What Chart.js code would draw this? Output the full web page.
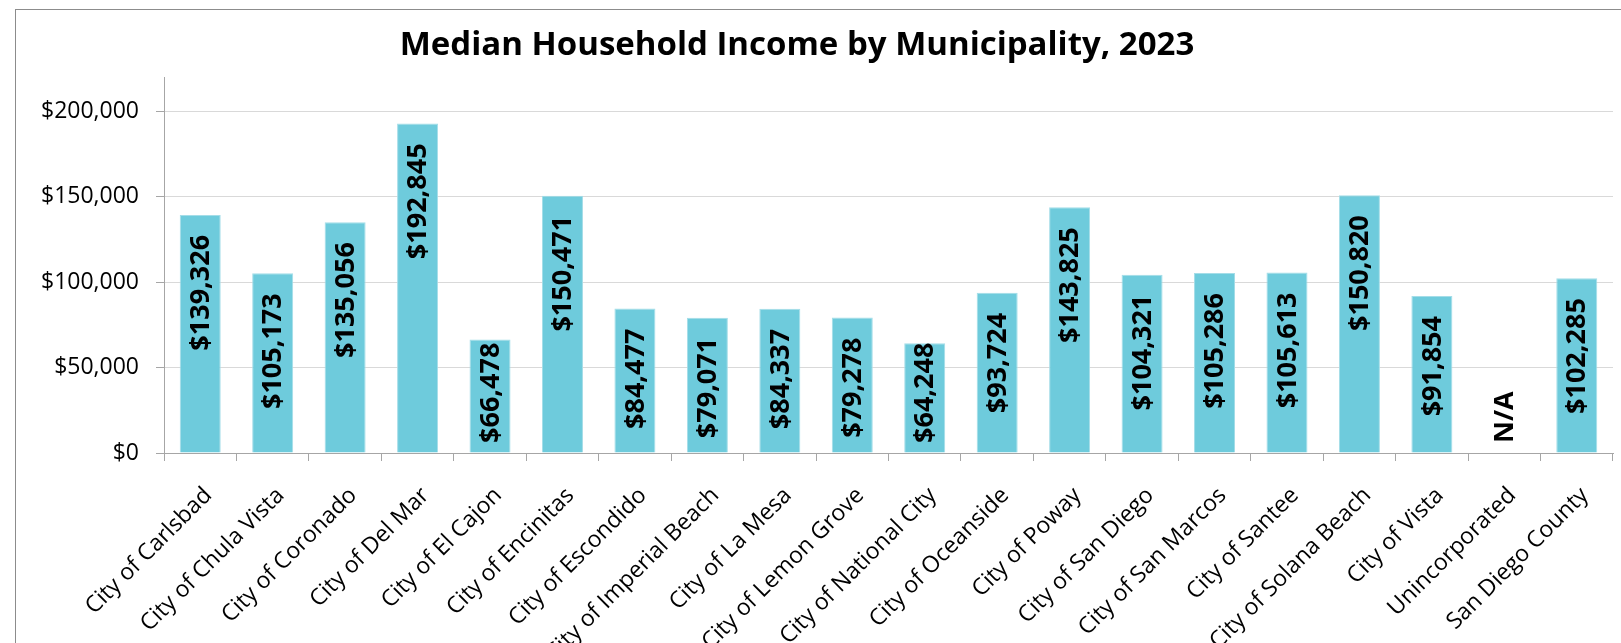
<!DOCTYPE html>
<html>
<head>
<meta charset="utf-8">
<script src="https://cdn.jsdelivr.net/npm/chart.js@4/dist/chart.umd.min.js"></script>
<style>
html,body{margin:0;padding:0;background:#fff;overflow:hidden;width:1621px;height:643px;}
#frame{position:absolute;left:15px;top:9px;width:1700px;height:800px;border:1px solid #8c8c8c;box-sizing:border-box;}
#wrap{position:absolute;left:0;top:0;width:1621px;height:643px;}
</style>
</head>
<body>
<div id="frame"></div>
<div id="wrap"><canvas id="c" width="1621" height="643"></canvas></div>
<script>
const chartTitle = 'Median Household Income by Municipality, 2023';
const categories = [
  'City of Carlsbad', 'City of Chula Vista', 'City of Coronado', 'City of Del Mar',
  'City of El Cajon', 'City of Encinitas', 'City of Escondido', 'City of Imperial Beach',
  'City of La Mesa', 'City of Lemon Grove', 'City of National City', 'City of Oceanside',
  'City of Poway', 'City of San Diego', 'City of San Marcos', 'City of Santee',
  'City of Solana Beach', 'City of Vista', 'Unincorporated', 'San Diego County'
];
const incomes = [
  139326, 105173, 135056, 192845,
  66478, 150471, 84477, 79071,
  84337, 79278, 64248, 93724,
  143825, 104321, 105286, 105613,
  150820, 91854, null, 102285
];
const yTickValues = [0, 50000, 100000, 150000, 200000];
const yAxisMax = 220000;
const missingLabel = 'N/A';

const FONT = 'Open Sans';
const fmt = v => '$' + v.toLocaleString('en-US');

const titleShift = {
  id: 'titleShift',
  afterLayout(chart) {
    const t = chart.titleBlock;
    if (t) { t.left = 0; t.right = 1594; }
  }
};

const barLabels = {
  id: 'barLabels',
  afterDatasetsDraw(chart) {
    const ctx = chart.ctx;
    const xs = chart.scales.x, ys = chart.scales.y;
    ctx.save();
    ctx.font = 'bold 27px "' + FONT + '"';
    ctx.fillStyle = '#000';
    ctx.textBaseline = 'middle';
    ctx.textAlign = 'left';
    const base = ys.getPixelForValue(0);
    incomes.forEach((v, i) => {
      const x = xs.getPixelForValue(i);
      const text = v == null ? missingLabel : fmt(v);
      const w = ctx.measureText(text).width;
      let start;
      if (v == null) {
        start = base - 10;
      } else {
        const top = ys.getPixelForValue(v);
        start = top + 20 + w;
        if (start > base - 10) start = base - 10;
      }
      ctx.save();
      ctx.translate(x + 1, start);
      ctx.rotate(-Math.PI / 2);
      ctx.fillText(text, 0, 0);
      ctx.restore();
    });
    ctx.restore();
  }
};

Chart.defaults.font.family = FONT;
Chart.defaults.color = '#000';

new Chart(document.getElementById('c'), {
  type: 'bar',
  data: {
    labels: categories,
    datasets: [{
      data: incomes,
      backgroundColor: '#6ECBDC',
      borderColor: '#a4dde8',
      borderWidth: 1,
      categoryPercentage: 1,
      barPercentage: 0.566
    }]
  },
  options: {
    responsive: false,
    animation: false,
    layout: { padding: { left: 0, right: 8, top: 0, bottom: 0 } },
    plugins: {
      legend: { display: false },
      tooltip: { enabled: false },
      title: {
        display: true,
        text: chartTitle,
        color: '#000',
        font: { family: FONT, size: 33, weight: 'bold' },
        padding: { top: 26, bottom: 11.4 }
      }
    },
    scales: {
      x: {
        type: 'category',
        offset: true,
        afterFit: s => { s.height = 190; },
        grid: {
          offset: true,
          drawOnChartArea: false,
          drawTicks: true,
          tickLength: 8,
          color: '#a6a6a6'
        },
        border: { color: '#a6a6a6', width: 1 },
        ticks: {
          autoSkip: false,
          minRotation: 45,
          maxRotation: 45,
          padding: 21,
          labelOffset: 8,
          color: '#000',
          font: { family: FONT, size: 23 }
        }
      },
      y: {
        min: 0,
        max: yAxisMax,
        afterFit: s => { s.width = 164; },
        afterBuildTicks: s => { s.ticks = yTickValues.map(v => ({ value: v })); },
        grid: {
          color: ctx => (ctx.tick && ctx.tick.value === 0) ? '#a6a6a6' : '#d9d9d9',
          tickColor: '#a6a6a6',
          tickLength: 8,
          lineWidth: 1
        },
        border: { color: '#a6a6a6', width: 1 },
        ticks: {
          padding: 17,
          color: '#000',
          font: { family: FONT, size: 23 },
          callback: v => fmt(v)
        }
      }
    }
  },
  plugins: [titleShift, barLabels]
});
</script>
</body>
</html>
